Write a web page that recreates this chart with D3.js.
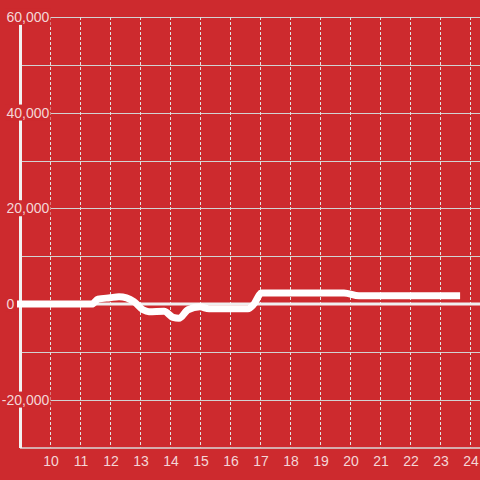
<!DOCTYPE html>
<html><head><meta charset="utf-8">
<script src="https://cdn.jsdelivr.net/npm/d3@7"></script>
<style>html,body{margin:0;padding:0;background:#cd2a2e;}svg{display:block;}</style>
</head><body>
<svg id="c" width="480" height="480"></svg>
<script>
const times  = [8.9, 11.4, 11.6, 12.0, 12.3, 12.8, 13.1, 13.3, 13.8, 14.1, 14.3, 14.6, 15.0, 15.3, 16.6, 16.8, 17.05, 19.8, 20.3, 23.67];
const values = [0, 0, 1000, 1300, 1500, 500, -1200, -1600, -1500, -2800, -3000, -1200, -600, -1000, -1000, 0, 2300, 2300, 1700, 1700];
const xTicks = [10,11,12,13,14,15,16,17,18,19,20,21,22,23,24];
const yGrid = [60000,50000,40000,30000,20000,10000,0,-10000,-20000];
const yLabels = [60000,40000,20000,0,-20000];

(function(){
const bg = "#cd2a2e", txt = "#f4d6d7";
const svg = d3.select("#c");
const x = d3.scaleLinear().domain([9,24]).range([20,470]);
const y = d3.scaleLinear().domain([-30000,60000]).range([447.5,17]);
const pL = 20, pR = 480, pT = y(60000), pB = y(-30000);

svg.append("rect").attr("width",480).attr("height",480).attr("fill",bg);

// horizontal grid
svg.append("g").selectAll("line").data(yGrid).join("line")
  .attr("x1",pL).attr("x2",pR).attr("y1",d=>Math.round(y(d))+0.5).attr("y2",d=>Math.round(y(d))+0.5)
  .attr("stroke","#d2d2d2").attr("stroke-width",1);

// vertical dotted grid
svg.append("g").selectAll("line").data(xTicks).join("line")
  .attr("x1",d=>x(d)+0.5).attr("x2",d=>x(d)+0.5).attr("y1",pT).attr("y2",pB)
  .attr("stroke","#e2e2e2").attr("stroke-width",1).attr("stroke-dasharray","3,2");

// bottom axis line
svg.append("line").attr("x1",pL).attr("x2",pR).attr("y1",448).attr("y2",448)
  .attr("stroke","#d8d8d8").attr("stroke-width",1.5);

// zero line
svg.append("line").attr("x1",pL).attr("x2",pR).attr("y1",y(0)).attr("y2",y(0))
  .attr("stroke","#f0f0f0").attr("stroke-width",3);

// y axis line
svg.append("line").attr("x1",20.5).attr("x2",20.5).attr("y1",pT).attr("y2",448)
  .attr("stroke","#f2f2f2").attr("stroke-width",3);

// data line
const pts = times.map((t,i)=>[t,values[i]]);
svg.append("path").datum(pts)
  .attr("d", d3.line().x(d=>x(d[0])).y(d=>y(d[1])).curve(d3.curveMonotoneX))
  .attr("fill","none").attr("stroke","#ffffff").attr("stroke-width",7)
  .attr("stroke-linejoin","round");

// y labels with background boxes
const font = "'Liberation Sans', Arial, sans-serif";
const fmt = d3.format(",");
const yl = svg.append("g");
yLabels.forEach(v=>{
  const g = yl.append("g");
  const r = g.append("rect").attr("fill",bg);
  g.append("text").attr("x",6.5).attr("y",y(v)).attr("dy","0.35em")
    .attr("font-family",font).attr("font-size",14).attr("fill",txt)
    .text(fmt(Math.abs(v)));
  if (v<0) {
    g.append("text").attr("x",6.5).attr("y",y(v)).attr("dy","0.35em")
      .attr("text-anchor","end").attr("font-family",font).attr("font-size",14).attr("fill",txt).text("-");
  }
  const bb = g.node().getBBox();
  r.attr("x",bb.x-1).attr("y",bb.y).attr("width",bb.width+2).attr("height",bb.height);
});

// x labels
svg.append("g").selectAll("text").data(xTicks).join("text")
  .attr("x",d=>x(d)+1).attr("y",466).attr("text-anchor","middle")
  .attr("font-family",font).attr("font-size",14).attr("fill",txt).text(d=>d);
})();
</script>
</body></html>
